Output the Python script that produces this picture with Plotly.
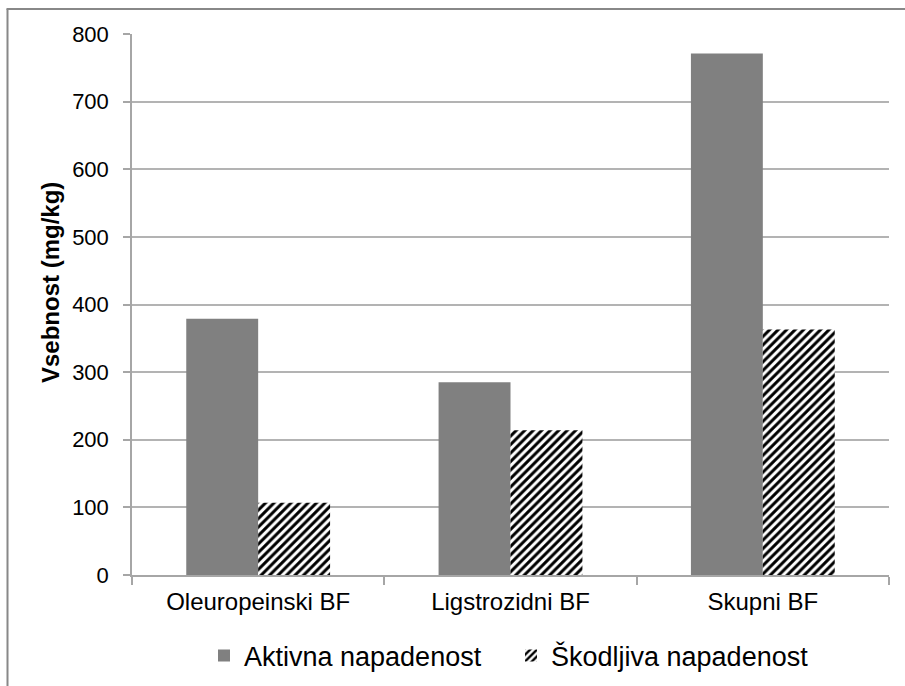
import plotly.graph_objects as go

categories = ["Oleuropeinski BF", "Ligstrozidni BF", "Skupni BF"]
aktivna = [379, 285, 771]
skodljiva = [107, 214, 363]
series_names = ["Aktivna napadenost", "Škodljiva napadenost"]
y_ticks = [0, 100, 200, 300, 400, 500, 600, 700, 800]
y_title = "Vsebnost (mg/kg)"

FONT = "Liberation Sans, Arial, sans-serif"

fig = go.Figure()
fig.add_trace(go.Bar(
    x=categories, y=aktivna, name=series_names[0],
    marker=dict(color="#808080", line=dict(width=0)),
))
fig.add_trace(go.Bar(
    x=categories, y=skodljiva, name=series_names[1],
    marker=dict(color="white", line=dict(width=0),
                pattern=dict(shape="/", fgcolor="black", bgcolor="white",
                             size=6, solidity=0.5, fillmode="replace")),
))

W, H = 905, 686
L, R, T, B = 132, 16, 34, 111
pw, ph = W - L - R, H - T - B

def px_x(px):
    return (px - L) / pw

def px_y(py):
    return (H - B - py) / ph

# outer frame (left and top edges visible)
fig.add_shape(type="line", xref="paper", yref="paper",
              x0=px_x(7.5), x1=px_x(7.5), y0=px_y(9), y1=px_y(700),
              line=dict(color="#888888", width=2))
fig.add_shape(type="line", xref="paper", yref="paper",
              x0=px_x(6.5), x1=px_x(910), y0=px_y(9), y1=px_y(9),
              line=dict(color="#888888", width=2))

fig.add_annotation(text="<b>" + y_title + "</b>", xref="paper", yref="paper",
                   x=px_x(50), y=px_y(283), textangle=-90, showarrow=False,
                   xanchor="center", yanchor="middle",
                   font=dict(size=24, family=FONT, color="black"))

fig.update_layout(
    width=W, height=H,
    margin=dict(l=L, r=R, t=T, b=B),
    paper_bgcolor="white", plot_bgcolor="white",
    barmode="group", bargap=0.43, bargroupgap=0,
    font=dict(family=FONT, color="black", size=22),
    showlegend=True,
    legend=dict(orientation="h", xref="container", yref="container",
                x=204 / W, xanchor="left", y=1 - 656 / H,
                yanchor="middle", font=dict(size=27, family=FONT),
                entrywidth=262, entrywidthmode="pixels",
                traceorder="normal", borderwidth=0, bgcolor="rgba(0,0,0,0)"),
    xaxis=dict(showline=True, linecolor="#a6a6a6", linewidth=1.5,
               ticks="outside", tickson="boundaries", ticklen=8, tickcolor="#a6a6a6",
               tickwidth=1.5, tickfont=dict(size=24), showgrid=False,
               ticklabelstandoff=4),
    yaxis=dict(range=[0, 800], tickvals=y_ticks, showline=True, linecolor="#a6a6a6",
               linewidth=1.5, ticks="outside", ticklen=7, tickcolor="#a6a6a6",
               tickwidth=1.5, gridcolor="#b3b3b3", gridwidth=1.5, zeroline=False,
               tickfont=dict(size=22), ticklabelstandoff=10),
)

fig.write_html("out.html", config={"displayModeBar": False},
               post_script="document.body.style.margin='0';")
